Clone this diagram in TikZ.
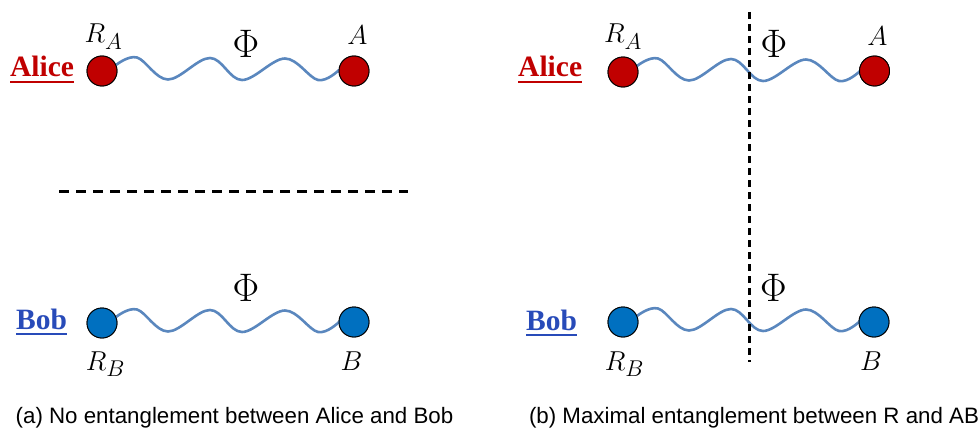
\documentclass[tikz,border=0pt]{standalone}
\usepackage{graphicx}
\usepackage{fontspec}
\setmainfont{Liberation Serif}
\newfontfamily\capfont{Liberation Sans}
\definecolor{wavecol}{RGB}{90,135,190}
\definecolor{redq}{RGB}{192,0,0}
\definecolor{blueq}{RGB}{0,112,192}
\definecolor{alicecol}{RGB}{192,0,0}
\definecolor{bobcol}{RGB}{40,75,185}
\newcommand{\wavefrom}[1]{%
  \begin{scope}[shift={(#1.center)}]
    \draw[wave] plot[smooth, tension=0.6] coordinates {(14,-6) (35,-13.5) (66,8.5) (108,-13) (140,9) (183,-12.5) (216,9) (237,-1)};
  \end{scope}}
\newcommand{\bigphi}{\scalebox{1.6}{$\Phi$}}
\newcommand{\lbl}[1]{\scalebox{1.1}{$#1$}}
\begin{document}
\begin{tikzpicture}[x=1pt,y=-1pt,
  wave/.style={draw=wavecol, line width=2.6pt, line cap=round},
  qubit/.style={circle, draw=black, line width=0.9pt, minimum size=30pt, inner sep=0pt},
  redqubit/.style={qubit, fill=redq},
  bluequbit/.style={qubit, fill=blueq},
  party/.style={anchor=base west, inner sep=0pt, font=\fontsize{29.5}{31}\selectfont\bfseries},
  lab/.style={anchor=base, inner sep=0pt, font=\fontsize{24.88}{28}\selectfont},
  philab/.style={anchor=base, inner sep=0pt, font=\fontsize{24.88}{28}\selectfont},
  captiontext/.style={anchor=base, inner sep=0pt, font=\capfont\fontsize{22.3}{24}\selectfont},
  hcut/.style={draw=black, line width=3pt, dash pattern=on 10pt off 7pt},
  vcut/.style={draw=black, line width=3pt, dash pattern=on 7pt off 5pt}]
\useasboundingbox (0,0) rectangle (979,428);

% ---------- panel (a) ----------
\node[redqubit] (ra1) at (102,71) {};
\node[redqubit] (a1) at (354,71) {};
\node[bluequbit] (rb1) at (102,323) {};
\node[bluequbit] (b1) at (354,322) {};
\wavefrom{ra1}
\wavefrom{rb1}
\node[redqubit] at (ra1) {};
\node[redqubit] at (a1) {};
\node[bluequbit] at (rb1) {};
\node[bluequbit] at (b1) {};

\node[party, text=alicecol] (alice1) at (10,77) {Alice};
\draw[alicecol, line width=2.2pt] ([yshift=-5pt]alice1.base west) -- ([yshift=-5pt]alice1.base east);
\node[party, text=bobcol] (bob1) at (16,329) {Bob};
\draw[bobcol, line width=2.2pt] ([yshift=-5pt]bob1.base west) -- ([yshift=-5pt]bob1.base east);

\node[lab] (lra1) at (103.5,43) {\lbl{R_A}};
\node[lab] (la1) at (357.5,45) {\lbl{A}};
\node[lab] (lrb1) at (105.5,370) {\lbl{R_B}};
\node[lab] (lb1) at (351.5,370) {\lbl{B}};
\node[philab] (phia1) at (246,57) {\bigphi};
\node[philab] (phib1) at (246,301) {\bigphi};

\coordinate (h1) at (59,191);
\coordinate (h2) at (408,191);
\draw[hcut] (h1) -- (h2);

\node[captiontext] (capa) at (234.5,423) {(a) No entanglement between Alice and Bob};

% ---------- panel (b) ----------
\node[redqubit] (ra2) at (623,72) {};
\node[redqubit] (a2) at (874.5,71) {};
\node[bluequbit] (rb2) at (623,322) {};
\node[bluequbit] (b2) at (874,322) {};
\wavefrom{ra2}
\wavefrom{rb2}
\node[redqubit] at (ra2) {};
\node[redqubit] at (a2) {};
\node[bluequbit] at (rb2) {};
\node[bluequbit] at (b2) {};

\node[party, text=alicecol] (alice2) at (518,77) {Alice};
\draw[alicecol, line width=2.2pt] ([yshift=-5pt]alice2.base west) -- ([yshift=-5pt]alice2.base east);
\node[party, text=bobcol] (bob2) at (526,330) {Bob};
\draw[bobcol, line width=2.2pt] ([yshift=-5pt]bob2.base west) -- ([yshift=-5pt]bob2.base east);

\node[lab] (lra2) at (623,43) {\lbl{R_A}};
\node[lab] (la2) at (877.5,46) {\lbl{A}};
\node[lab] (lrb2) at (624.5,370) {\lbl{R_B}};
\node[lab] (lb2) at (871,370) {\lbl{B}};
\node[philab] (phia2) at (774,57) {\bigphi};
\node[philab] (phib2) at (773.5,301) {\bigphi};

\coordinate (v1) at (749,12);
\coordinate (v2) at (749,362);
\draw[vcut] (v1) -- (v2);

\node[captiontext] (capb) at (754,423) {(b) Maximal entanglement between R and AB};
\end{tikzpicture}
\end{document}
